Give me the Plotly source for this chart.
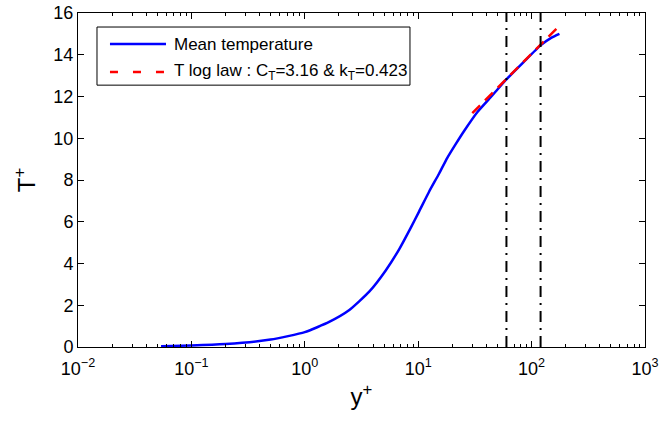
import math
import plotly.graph_objects as go

# Mean temperature profile T+ versus wall distance y+
y_plus = [0.054, 0.1, 0.2, 0.5, 1.0, 1.64, 2.47, 3.70, 5.19, 6.79, 8.61, 10.2,
          12.5, 15.3, 18.0, 21.4, 25.4, 33.3, 45.0, 59.0, 85.0, 120.0, 150.0, 176.0]
t_plus = [0.04, 0.072, 0.143, 0.355, 0.71, 1.2, 1.77, 2.65, 3.68, 4.68, 5.72, 6.5,
          7.45, 8.31, 9.05, 9.72, 10.35, 11.26, 12.05, 12.78, 13.65, 14.45, 14.82, 15.0]

# Logarithmic law constants and the y+ span it is drawn over
C_T = 3.16
k_T = 0.423
loglaw_y = [30, 45, 60, 90, 120, 150, 178]

# Bounds of the log region
region_bounds = [60, 120]

x_tickvals = [1e-2, 1e-1, 1e0, 1e1, 1e2, 1e3]
x_ticktext = ["10<sup>−2</sup>", "10<sup>−1</sup>", "10<sup>0</sup>",
              "10<sup>1</sup>", "10<sup>2</sup>", "10<sup>3</sup>"]
y_tickvals = [0, 2, 4, 6, 8, 10, 12, 14, 16]

series_names = ["Mean temperature",
                f"T log law : C<sub>T</sub>={C_T} & k<sub>T</sub>={k_T}"]

loglaw_t = [math.log(y) / k_T + C_T for y in loglaw_y]

FONT = "Liberation Sans, Arial, sans-serif"
BLUE = "#0000ff"
RED = "#ff0000"
LOGLAW_DASH = "11px,7px"

fig = go.Figure()

fig.add_trace(go.Scatter(
    x=y_plus, y=t_plus, mode="lines", name=series_names[0], showlegend=False,
    line=dict(color=BLUE, width=2.5, shape="spline", smoothing=0.5),
))
fig.add_trace(go.Scatter(
    x=loglaw_y, y=loglaw_t, mode="lines", name=series_names[1], showlegend=False,
    line=dict(color=RED, width=2.5, dash=LOGLAW_DASH),
))
for xb in region_bounds:
    fig.add_trace(go.Scatter(
        x=[xb, xb], y=[0, 16], mode="lines", showlegend=False,
        line=dict(color="black", width=2, dash="11px,6px,2px,6px"),
    ))

# Boxed key in the upper-left corner of the axes (paper coordinates)
box = dict(x0=0.0335, x1=0.5855, y0=0.784, y1=0.958)
rows_y = [0.907, 0.823]
sample_x = (0.0564, 0.1552)
text_x = 0.1658
shapes = [dict(type="rect", xref="paper", yref="paper", **box,
               line=dict(color="black", width=1), fillcolor="white", layer="above")]
shapes.append(dict(type="line", xref="paper", yref="paper",
                   x0=sample_x[0], x1=sample_x[1], y0=rows_y[0], y1=rows_y[0],
                   line=dict(color=BLUE, width=2.5), layer="above"))
shapes.append(dict(type="line", xref="paper", yref="paper",
                   x0=sample_x[0], x1=sample_x[1], y0=rows_y[1], y1=rows_y[1],
                   line=dict(color=RED, width=2.5, dash="8px,15px"), layer="above"))
annotations = [
    dict(xref="paper", yref="paper", x=text_x, y=ry, text=name,
         showarrow=False, xanchor="left", yanchor="middle",
         font=dict(family=FONT, size=17, color="black"))
    for ry, name in zip(rows_y, series_names)
]

fig.update_layout(
    width=659, height=421,
    margin=dict(l=78, r=14, t=13, b=74),
    paper_bgcolor="white", plot_bgcolor="white",
    font=dict(family=FONT, size=18, color="black"),
    showlegend=False,
    shapes=shapes,
    annotations=annotations,
)

fig.update_xaxes(
    type="log", range=[-2, 3],
    tickvals=x_tickvals, ticktext=x_ticktext,
    ticks="inside", ticklen=6, tickcolor="black", tickwidth=1,
    minor=dict(ticks="inside", ticklen=3, tickcolor="black", dtick="D1"),
    showline=True, linecolor="black", linewidth=1, mirror="ticks",
    showgrid=False, zeroline=False, automargin=False,
    tickfont=dict(size=18), ticklabelstandoff=5, ticklabeloverflow="allow",
    title=dict(text="y<sup>+</sup>", font=dict(size=24), standoff=10),
)
fig.update_yaxes(
    range=[0, 16], tickvals=y_tickvals,
    ticks="inside", ticklen=6, tickcolor="black", tickwidth=1,
    showline=True, linecolor="black", linewidth=1, mirror="ticks",
    showgrid=False, zeroline=False, automargin=False,
    tickfont=dict(size=18),
    title=dict(text="T<sup>+</sup>", font=dict(size=24), standoff=10),
)

fig.write_html("out.html")
